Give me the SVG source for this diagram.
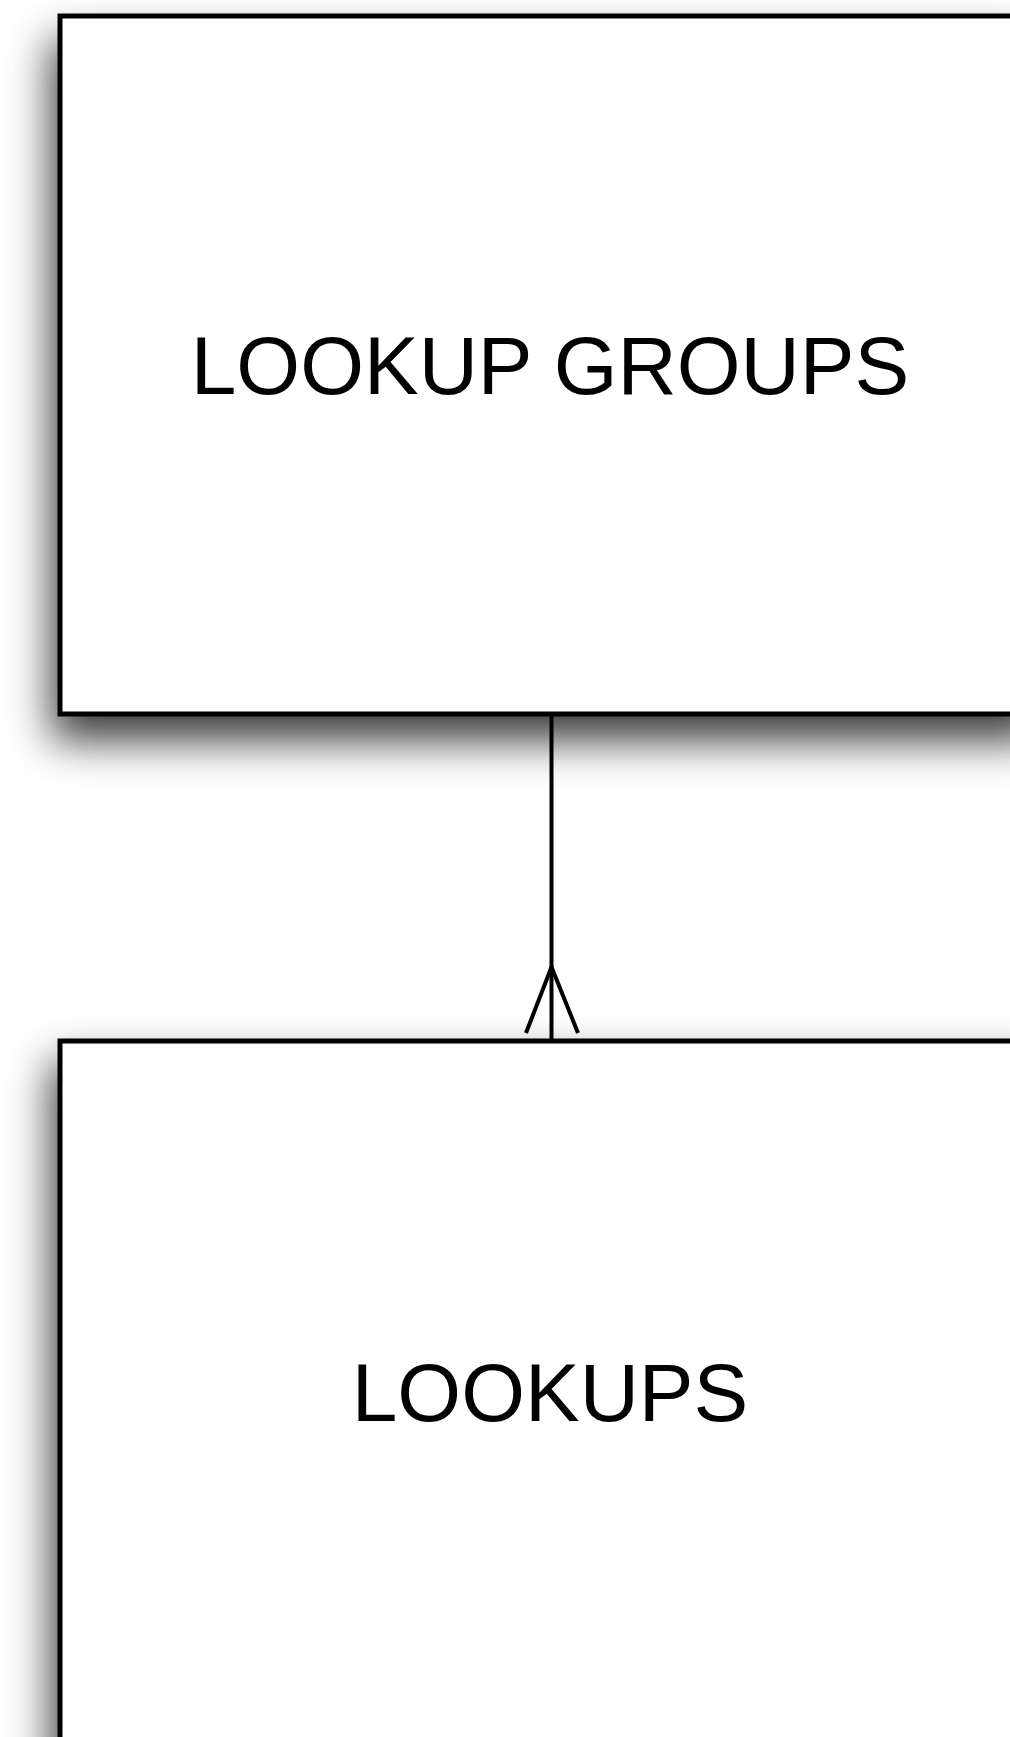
<svg xmlns="http://www.w3.org/2000/svg" width="1010" height="1737" viewBox="0 0 1010 1737">
<style>
.box{fill:#fff;stroke:#000;stroke-width:5}
.lbl{font-family:"Liberation Sans",Arial,Helvetica,sans-serif;font-size:82px;fill:#000;text-anchor:middle}
.conn{stroke:#000;stroke-width:4;fill:none;stroke-linecap:butt;stroke-linejoin:miter}
</style>
<defs>
<filter id="sh" filterUnits="userSpaceOnUse" x="-100" y="-100" width="1300" height="2000">
<feGaussianBlur stdDeviation="22"/>
</filter>
</defs>
<rect width="1010" height="1737" fill="#fff"/>
<g id="lookup-groups">
<rect x="52" y="40" width="988" height="700" fill="#000" opacity="0.78" filter="url(#sh)"/>
<rect class="box" x="60" y="16" width="980" height="698"/>
<text class="lbl" x="550" y="394">LOOKUP GROUPS</text>
</g>
<g id="lookups">
<rect x="52" y="1062" width="988" height="720" fill="#000" opacity="0.78" filter="url(#sh)"/>
<rect class="box" x="60" y="1041" width="980" height="700"/>
<text class="lbl" x="550" y="1421">LOOKUPS</text>
</g>
<g id="connectors">
<line class="conn" x1="551.5" y1="716" x2="551.5" y2="1039"/>
<polyline class="conn" points="526,1033 551.5,967 578,1033"/>
</g>
</svg>
